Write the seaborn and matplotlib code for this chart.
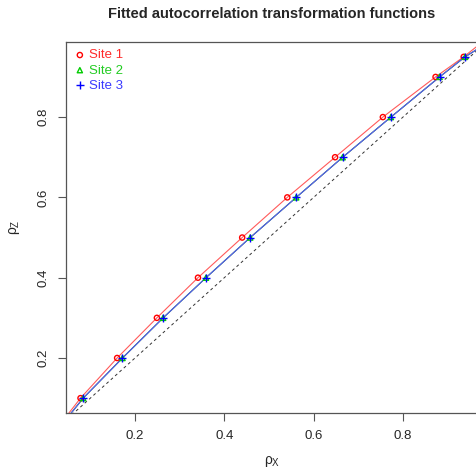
import pandas as pd
import seaborn as sns
import matplotlib.pyplot as plt

# values
rho_z = [0.1, 0.2, 0.3, 0.4, 0.5, 0.6, 0.7, 0.8, 0.9, 0.95]
site1_x = [0.078, 0.160, 0.249, 0.341, 0.440, 0.541, 0.648, 0.755, 0.873, 0.936]
site2_x = [0.084, 0.172, 0.263, 0.359, 0.458, 0.561, 0.665, 0.773, 0.882, 0.939]
site3_x = [0.084, 0.172, 0.263, 0.359, 0.458, 0.561, 0.665, 0.773, 0.882, 0.939]

# fitted curves (incl. ends at the plot edges)
curve_z = [0.06, 0.1, 0.2, 0.3, 0.4, 0.5, 0.6, 0.7, 0.8, 0.9, 0.95, 0.98]
curve1_x = [0.050, 0.078, 0.160, 0.249, 0.341, 0.440, 0.541, 0.648, 0.755, 0.873, 0.936, 0.970]
curve2_x = [0.055, 0.084, 0.172, 0.263, 0.359, 0.458, 0.561, 0.665, 0.773, 0.882, 0.939, 0.982]
curve3_x = curve2_x

sites = ["Site 1", "Site 2", "Site 3"]
colors = ["#ff0000", "#00cc00", "#0000ff"]
text_colors = ["#ff2a2a", "#22cc22", "#3a3aff"]
line_colors = ["#ff5a5a", "#007a00", "#5a5aff"]

pts = pd.DataFrame({
    "x": site1_x + site2_x + site3_x,
    "z": rho_z * 3,
    "site": [s for s in sites for _ in rho_z],
})
curves = pd.DataFrame({
    "x": curve1_x + curve2_x + curve3_x,
    "z": curve_z * 3,
    "site": [s for s in sites for _ in curve_z],
})

sns.set_style("white")
plt.rcParams["font.family"] = ["Liberation Sans", "DejaVu Sans"]
plt.rcParams["mathtext.fontset"] = "custom"
plt.rcParams["mathtext.rm"] = "Liberation Sans"
plt.rcParams["mathtext.it"] = "Liberation Sans"

fig = plt.figure(figsize=(4.76, 4.73), dpi=100)
ax = fig.add_axes([66 / 476, 60 / 473, 412 / 476, 371 / 473])

ax.plot([0, 1], [0, 1], color="#333333", lw=0.7, ls=(0, (3, 3)))
for s, c in zip(sites, line_colors):
    sns.lineplot(data=curves[curves.site == s], x="x", y="z", color=c,
                 lw=0.8, sort=False, estimator=None, ax=ax, legend=False)

markers = ["o", "^", "+"]
for s, c, m in zip(sites, colors, markers):
    d = pts[pts.site == s]
    if m == "+":
        ax.scatter(d.x, d.z, marker=m, color=c, s=36, lw=1.0, label=s, zorder=5)
    else:
        ax.scatter(d.x, d.z, marker=m, facecolors="none", edgecolors=c,
                   s=14, lw=1.0, label=s, zorder=4)

ax.set_xlim(0.0455, 0.968)
ax.set_ylim(0.063, 0.987)
ax.set_xticks([0.2, 0.4, 0.6, 0.8])
ax.set_yticks([0.2, 0.4, 0.6, 0.8])
ax.set_xticklabels(["0.2", "0.4", "0.6", "0.8"])
ax.set_yticklabels(["0.2", "0.4", "0.6", "0.8"], rotation=90, va="center")
ax.tick_params(axis="both", direction="out", length=6, width=0.8,
               color="#555555", labelsize=9.5, pad=6, bottom=True, left=True)
for sp in ax.spines.values():
    sp.set_color("#555555")
    sp.set_linewidth(0.9)

ax.set_xlabel(r"$\rho_X$", fontsize=10, labelpad=9)
ax.set_ylabel(r"$\rho_Z$", fontsize=10, labelpad=11)
fig.text(272 / 476, 1 - 14 / 473, "Fitted autocorrelation transformation functions",
         ha="center", va="center", fontsize=10.5, fontweight="bold")

leg = ax.legend(loc="upper left", frameon=False, fontsize=9.5, handletextpad=0.2,
                borderaxespad=0.15, labelspacing=0.22, handlelength=1.0,
                borderpad=0.4)
for t, c in zip(leg.get_texts(), text_colors):
    t.set_color(c)

fig.savefig("out.png", dpi=100)
